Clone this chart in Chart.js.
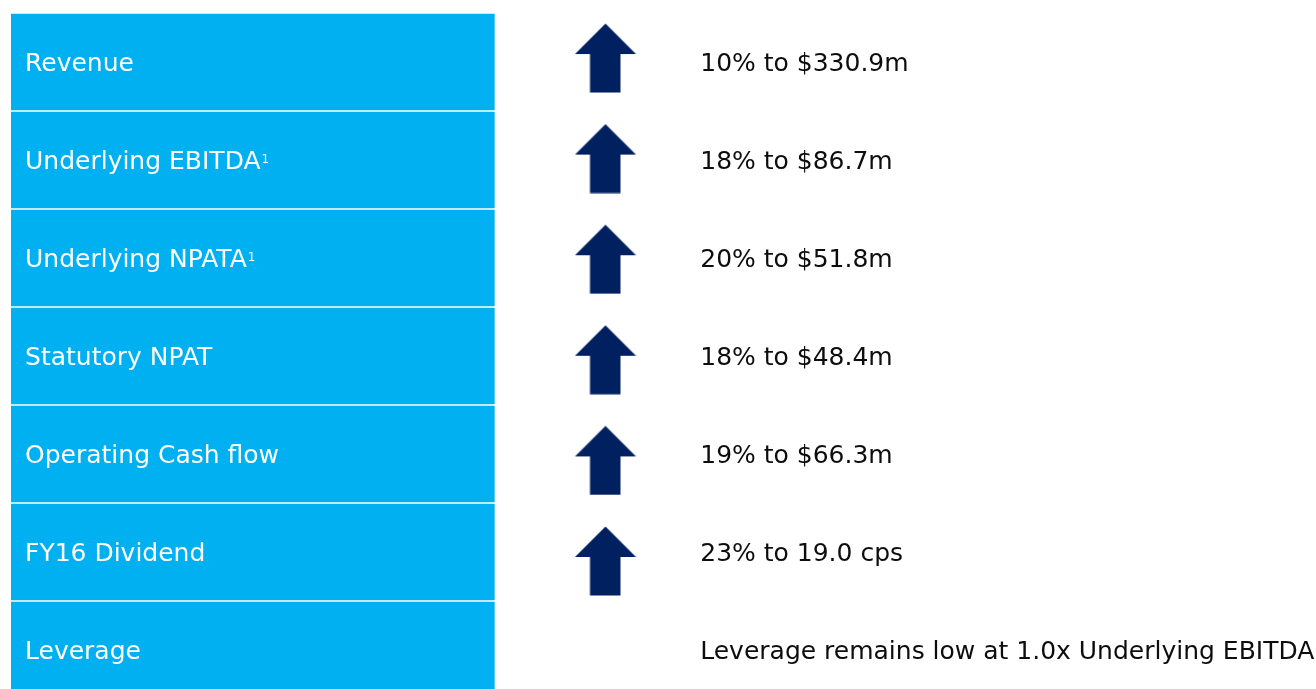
<!DOCTYPE html>
<html>
<head>
<meta charset="utf-8">
<title>FY16 Highlights</title>
<script src="https://cdn.jsdelivr.net/npm/chart.js@4/dist/chart.umd.min.js"></script>
<style>
  html, body { margin: 0; padding: 0; background: #fff; }
  #wrap { width: 1316px; height: 689px; overflow: hidden; position: relative; }
  canvas { display: block; }
</style>
</head>
<body>
<div id="wrap">
  <canvas id="highlights" width="1316" height="699"></canvas>
</div>
<script>
// --- data ---
const categories = ['Revenue', 'Underlying EBITDA', 'Underlying NPATA', 'Statutory NPAT', 'Operating Cash flow', 'FY16 Dividend', 'Leverage'];
const footnotes = [null, '1', '1', null, null, null, null];
const growthPct = [10, 18, 20, 18, 19, 23, null];
const amounts = ['$330.9m', '$86.7m', '$51.8m', '$48.4m', '$66.3m', '19.0 cps', null];
const leverageMultiple = 1.0;

// --- look ---
const BOX_BLUE = '#00B0F0';
const ARROW_NAVY = '#002060';
const FONT = '"DejaVu Sans", sans-serif';
const FONT_SIZE = 25;

// x positions are in scale units (box spans 0..10)
const X_MAX = 27;
const LABEL_X = 0.29;
const ARROW_X = 12.3;
const VALUE_X = 14.26;

function valueText(i) {
  if (growthPct[i] == null) {
    return `Leverage remains low at ${leverageMultiple.toFixed(1)}x Underlying EBITDA`;
  }
  return `${growthPct[i]}% to ${amounts[i]}`;
}

// up arrow used as point style
function makeArrow() {
  const c = document.createElement('canvas');
  c.width = 62; c.height = 70;
  const g = c.getContext('2d');
  g.fillStyle = ARROW_NAVY;
  g.beginPath();
  g.moveTo(31, 0.5);
  g.lineTo(61.5, 31);
  g.lineTo(46, 31);
  g.lineTo(46, 69.5);
  g.lineTo(15.5, 69.5);
  g.lineTo(15.5, 31);
  g.lineTo(0.5, 31);
  g.closePath();
  g.fill();
  return c;
}

// row labels inside the boxes + result text to the right
const textPlugin = {
  id: 'rowText',
  afterDatasetsDraw(chart) {
    const { ctx } = chart;
    const xs = chart.scales.x;
    const ys = chart.scales.y;
    ctx.save();
    ctx.textBaseline = 'middle';
    ctx.textAlign = 'left';
    categories.forEach((cat, i) => {
      const y = ys.getPixelForValue(i) + 2;
      const lx = xs.getPixelForValue(LABEL_X);
      ctx.font = `${FONT_SIZE}px ${FONT}`;
      ctx.fillStyle = '#ffffff';
      ctx.fillText(cat, lx, y);
      if (footnotes[i]) {
        const w = ctx.measureText(cat).width;
        ctx.font = `12px ${FONT}`;
        ctx.fillText(footnotes[i], lx + w + 1, y - 2.5);
      }
      ctx.font = `${FONT_SIZE}px ${FONT}`;
      ctx.fillStyle = '#0d0d0d';
      ctx.fillText(valueText(i), xs.getPixelForValue(VALUE_X), y);
    });
    ctx.restore();
  }
};

const arrowPoints = growthPct
  .map((g, i) => (g != null && g > 0 ? { x: ARROW_X, y: i } : null))
  .filter(p => p);

new Chart(document.getElementById('highlights'), {
  type: 'bar',
  data: {
    labels: categories,
    datasets: [
      {
        type: 'bar',
        indexAxis: 'y',
        data: categories.map(() => [0, 10]),
        backgroundColor: BOX_BLUE,
        borderWidth: 0,
        barThickness: 96,
        xAxisID: 'x',
        yAxisID: 'y'
      },
      {
        type: 'scatter',
        data: arrowPoints,
        pointStyle: makeArrow(),
        // image point styles draw at their own size
        pointRadius: 1,
        pointHoverRadius: 1,
        pointBorderWidth: 0,
        clip: false,
        xAxisID: 'x',
        yAxisID: 'yArrow'
      }
    ]
  },
  options: {
    responsive: false,
    animation: false,
    events: [],
    layout: { autoPadding: false, padding: { left: 11, right: 0, top: 13, bottom: 0 } },
    plugins: { legend: { display: false }, tooltip: { enabled: false } },
    scales: {
      x: { type: 'linear', min: 0, max: X_MAX, offset: false, display: false },
      y: { type: 'category', labels: categories, display: false, offset: true },
      // the arrow column sits on a slightly looser pitch than the rows
      yArrow: { type: 'linear', reverse: true, min: -0.4474, max: 6.372, display: false }
    }
  },
  plugins: [textPlugin]
});
</script>
</body>
</html>
